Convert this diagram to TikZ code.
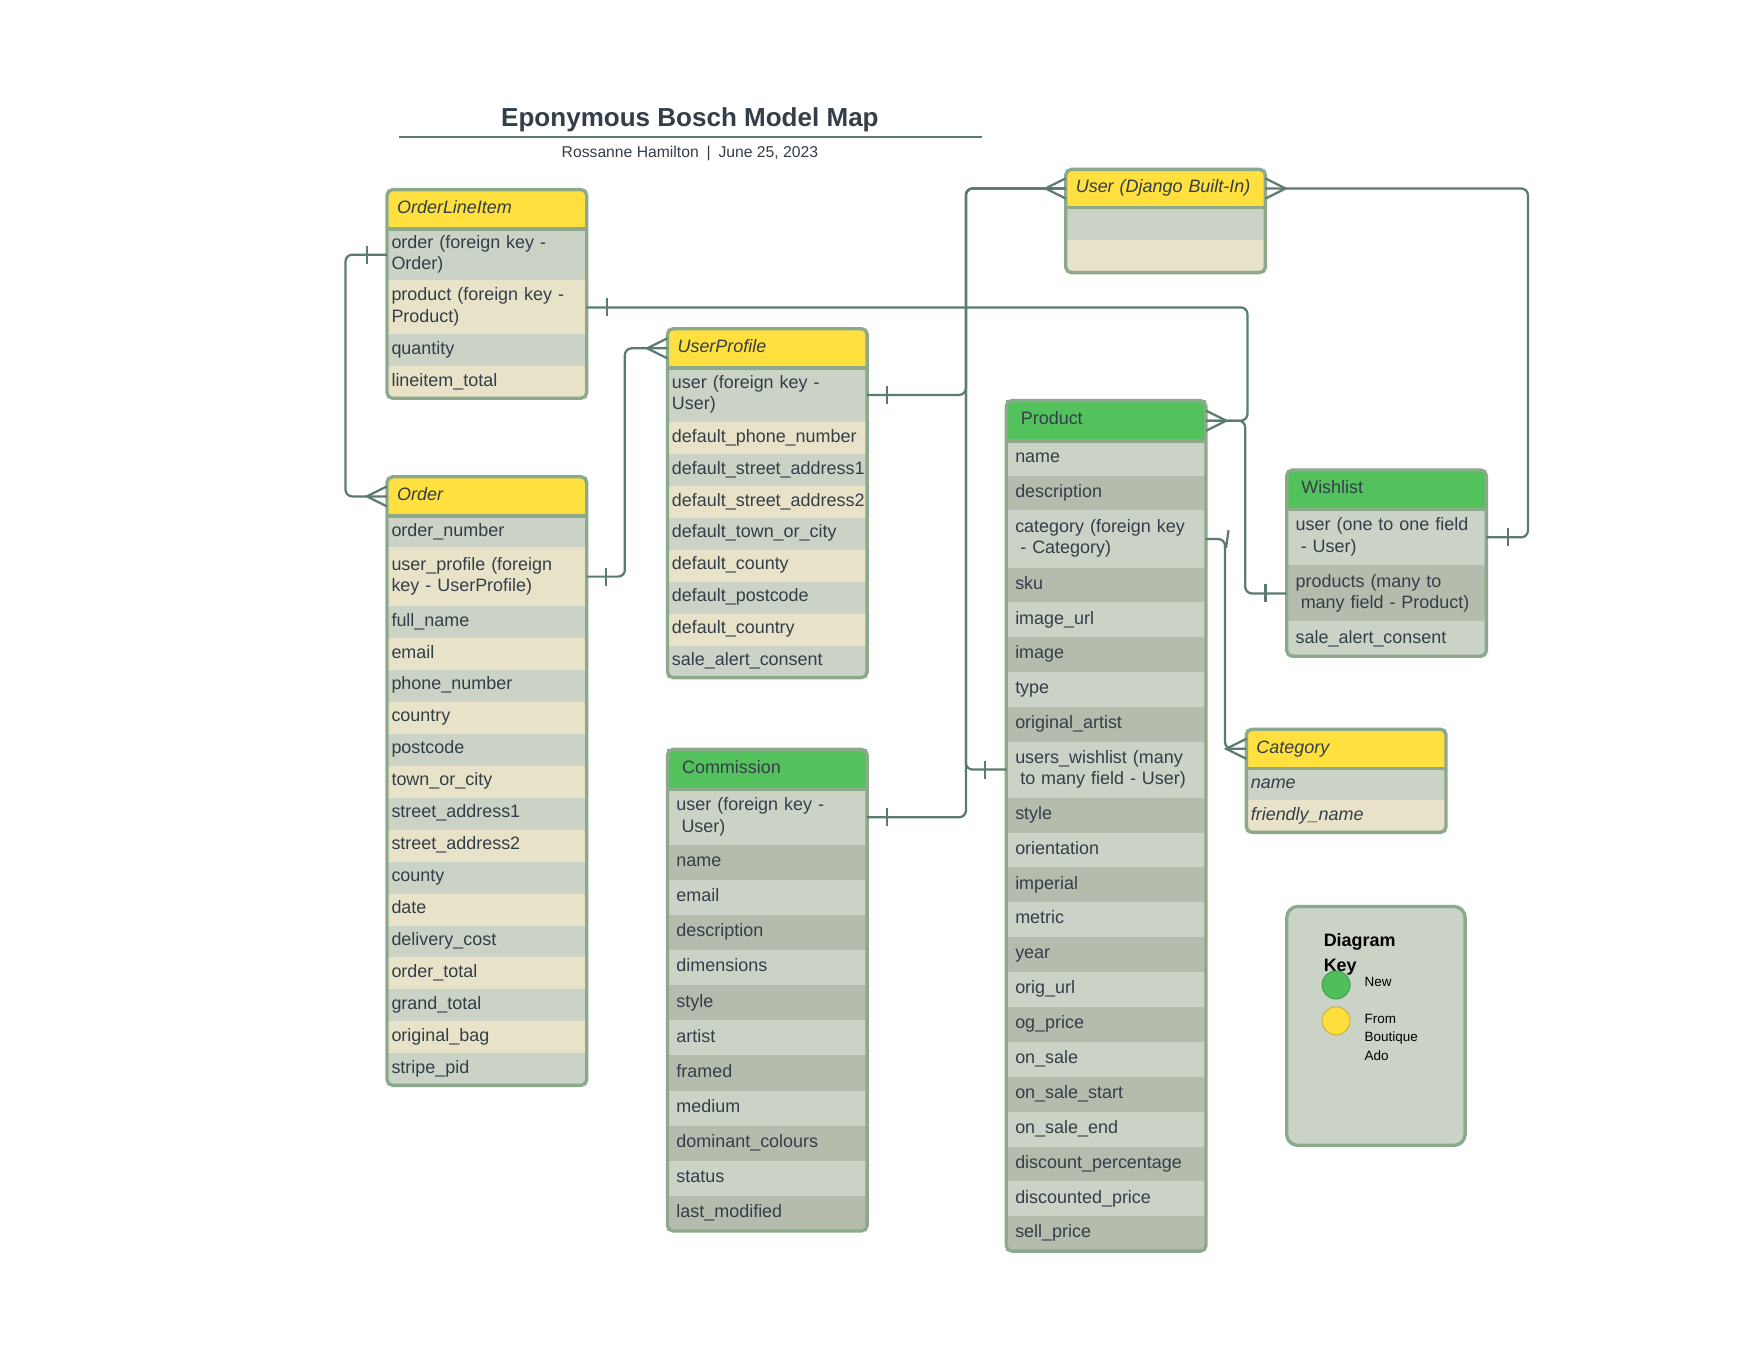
\documentclass[tikz,border=0pt]{standalone}
\usepackage{fontspec}
\setmainfont{Liberation Sans}
\usetikzlibrary{positioning,fit}
\hyphenpenalty=10000
\definecolor{headyellow}{HTML}{FFE03F}
\definecolor{headgreen}{HTML}{53C25D}
\definecolor{rowgrey}{HTML}{CAD3C5}
\definecolor{rowsand}{HTML}{E8E2C8}
\definecolor{rowdark}{HTML}{B5BCAE}
\definecolor{edgegreen}{HTML}{8CA98C}
\definecolor{wire}{HTML}{5B7B6F}
\definecolor{ink}{HTML}{333E48}
\definecolor{keygreen}{HTML}{4FBF5A}
\definecolor{keygreenedge}{HTML}{3E9B48}
\definecolor{keyyellow}{HTML}{FFDD3C}
\definecolor{keyyellowedge}{HTML}{C8AE3A}

\begin{document}
\begin{tikzpicture}[x=1pt,y=-1pt,
    every node/.style={outer sep=0pt,text=ink},
    fieldY/.style={inner xsep=4pt,inner ysep=0pt,text width=170pt,align=left,
      font=\fontsize{16}{19}\selectfont,
      execute at begin node=\strut,execute at end node=\strut},
    fieldI/.style={fieldY,font=\fontsize{16}{19}\selectfont\itshape},
    fieldG/.style={fieldY,inner xsep=8pt,text width=162pt},
    headY/.style={fieldY,fill=headyellow,inner xsep=9pt,text width=160pt,
      minimum height=35pt,font=\fontsize{16}{19}\selectfont\itshape},
    headG/.style={fieldY,fill=headgreen,inner xsep=13pt,text width=152pt,minimum height=36pt},
    tablebox/.style={draw=edgegreen,line width=3pt,rounded corners=5pt,inner sep=0pt},
    headrule/.style={draw=edgegreen,line width=3pt},
    wireline/.style={draw=wire,line width=2pt},
    route/.style={wireline,rounded corners=6pt},
    bar/.pic={\draw[wireline] (0,-8) -- (0,8);},
    crow/.pic={\draw[wireline] (0,-9) -- (-18,0) -- (0,9);}]

  \fill[white] (0,0) rectangle (1568,1211);
  \useasboundingbox (0,0) rectangle (1568,1211);

  % title
  \node[font=\fontsize{23.2}{28}\selectfont\bfseries] (title) at (615,107) {Eponymous Bosch Model Map};
  \coordinate (ruleL) at (356,122);
  \coordinate (ruleR) at (875,122);
  \draw[wire,line width=2pt] (ruleL) -- (ruleR);
  \node[font=\fontsize{14}{17}\selectfont] (byline) at (615,137) {Rossanne Hamilton\enspace|\enspace June 25, 2023};

  % OrderLineItem
  \node[headY,anchor=north west] (oli0) at (345,169) {OrderLineItem};
  \foreach \f/\h/\c [count=\i] in {order (foreign key -\\Order)/46/rowgrey,
      product (foreign key -\\Product)/48/rowsand, quantity/28/rowgrey, lineitem\_total/29/rowsand}{
    \pgfmathtruncatemacro\j{\i-1}
    \node[fieldY,fill=\c,minimum height={\h*1pt},below=0pt of oli\j] (oli\i) {\f};
  }
  \node[tablebox,fit=(oli0)(oli4)] {};
  \draw[headrule] (oli0.south west) -- (oli0.south east);

  % Order
  \node[headY,anchor=north west] (ord0) at (345,425) {Order};
  \foreach \f/\h/\c [count=\i] in {order\_number/28/rowgrey,
      user\_profile (foreign\\key - UserProfile)/52/rowsand,
      full\_name/28.5/rowgrey, email/28.5/rowsand, phone\_number/28.5/rowgrey,
      country/28.5/rowsand, postcode/28.5/rowgrey, town\_or\_city/28.5/rowsand,
      street\_address1/28.5/rowgrey, street\_address2/28.5/rowsand, county/28.5/rowgrey,
      date/28.5/rowsand, delivery\_cost/28.5/rowgrey, order\_total/28.5/rowsand,
      grand\_total/28.5/rowgrey, original\_bag/28.5/rowsand, stripe\_pid/28.5/rowgrey}{
    \pgfmathtruncatemacro\j{\i-1}
    \node[fieldY,fill=\c,minimum height={\h*1pt},below=0pt of ord\j] (ord\i) {\f};
  }
  \node[tablebox,fit=(ord0)(ord17)] {};
  \draw[headrule] (ord0.south west) -- (ord0.south east);

  % UserProfile
  \node[headY,anchor=north west] (up0) at (595,293) {UserProfile};
  \foreach \f/\h/\c [count=\i] in {user (foreign key -\\User)/48/rowgrey,
      default\_phone\_number/28.5/rowsand, default\_street\_address1/28.5/rowgrey,
      default\_street\_address2/28.5/rowsand, default\_town\_or\_city/28.5/rowgrey,
      default\_county/28.5/rowsand, default\_postcode/28.5/rowgrey,
      default\_country/28.5/rowsand, sale\_alert\_consent/28.5/rowgrey}{
    \pgfmathtruncatemacro\j{\i-1}
    \node[fieldY,fill=\c,minimum height={\h*1pt},below=0pt of up\j] (up\i) {\f};
  }
  \node[tablebox,fit=(up0)(up9)] {};
  \draw[headrule] (up0.south west) -- (up0.south east);

  % User (Django Built-In)
  \node[headY,minimum height=34pt,anchor=north west] (usr0) at (950,151) {User (Django Built-In)};
  \node[fieldY,fill=rowgrey,minimum height=29pt,below=0pt of usr0] (usr1) {};
  \node[fieldY,fill=rowsand,minimum height=29pt,below=0pt of usr1] (usr2) {};
  \node[tablebox,fit=(usr0)(usr2)] {};
  \draw[headrule] (usr0.south west) -- (usr0.south east);

  % Product
  \node[headG,anchor=north west] (prod0) at (897,357) {Product};
  \foreach \f/\h/\c [count=\i] in {name/31/rowgrey, description/31/rowdark,
      category (foreign key\\\hspace*{4.5pt}- Category)/51/rowgrey, sku/31/rowdark,
      image\_url/31/rowgrey, image/31/rowdark, type/31/rowgrey, original\_artist/31/rowdark,
      users\_wishlist (many\\\hspace*{4.5pt}to many field - User)/50/rowgrey,
      style/31.1/rowdark, orientation/31.1/rowgrey, imperial/31.1/rowdark, metric/31.1/rowgrey,
      year/31.1/rowdark, orig\_url/31.1/rowgrey, og\_price/31.1/rowdark, on\_sale/31.1/rowgrey,
      on\_sale\_start/31.1/rowdark, on\_sale\_end/31.1/rowgrey,
      discount\_percentage/31.1/rowdark, discounted\_price/31.1/rowgrey, sell\_price/31.1/rowdark}{
    \pgfmathtruncatemacro\j{\i-1}
    \node[fieldG,fill=\c,minimum height={\h*1pt},below=0pt of prod\j] (prod\i) {\f};
  }
  \node[tablebox,fit=(prod0)(prod22)] {};
  \draw[headrule] (prod0.south west) -- (prod0.south east);

  % Commission
  \node[headG,anchor=north west] (com0) at (595,668) {Commission};
  \foreach \f/\h/\c [count=\i] in {user (foreign key -\\\hspace*{4.5pt}User)/49/rowgrey,
      name/31.3/rowdark, email/31.3/rowgrey, description/31.3/rowdark, dimensions/31.3/rowgrey,
      style/31.3/rowdark, artist/31.3/rowgrey, framed/31.3/rowdark, medium/31.3/rowgrey,
      dominant\_colours/31.3/rowdark, status/31.3/rowgrey, last\_modified/31.3/rowdark}{
    \pgfmathtruncatemacro\j{\i-1}
    \node[fieldG,fill=\c,minimum height={\h*1pt},below=0pt of com\j] (com\i) {\f};
  }
  \node[tablebox,fit=(com0)(com12)] {};
  \draw[headrule] (com0.south west) -- (com0.south east);

  % Wishlist
  \node[headG,minimum height=35pt,anchor=north west] (wl0) at (1147,419) {Wishlist};
  \foreach \f/\h/\c [count=\i] in {user (one to one field\\\hspace*{4.5pt}- User)/50/rowgrey,
      products (many to\\\hspace*{4.5pt}many field - Product)/50/rowdark,
      sale\_alert\_consent/31/rowgrey}{
    \pgfmathtruncatemacro\j{\i-1}
    \node[fieldG,fill=\c,minimum height={\h*1pt},below=0pt of wl\j] (wl\i) {\f};
  }
  \node[tablebox,fit=(wl0)(wl3)] {};
  \draw[headrule] (wl0.south west) -- (wl0.south east);

  % Category
  \node[headY,anchor=north west] (cat0) at (1111,650) {Category};
  \node[fieldI,fill=rowgrey,minimum height=28pt,below=0pt of cat0] (cat1) {name};
  \node[fieldI,fill=rowsand,minimum height=29pt,below=0pt of cat1] (cat2) {friendly\_name};
  \node[tablebox,fit=(cat0)(cat2)] {};
  \draw[headrule] (cat0.south west) -- (cat0.south east);

  % relations
  \draw[route] (oli1.west) -- ++(-37,0) |- (ord0.west);
  \draw[route] (oli2.east) -| ([xshift=37pt]prod0.east) -- (prod0.east);
  \draw[route] (prod0.east) -- ++(35,0) |- (wl2.west);
  \draw[route] (ord2.east) -- ++(34,0) |- (up0.west);
  \draw[route] (up1.east) -| ([xshift=-89pt]usr0.west) -- (usr0.west);
  \draw[route] (prod9.west) -| ([xshift=-89pt]usr0.west) -- (usr0.west);
  \draw[route] (com1.east) -| ([xshift=-89pt]usr0.west) -- (usr0.west);
  \draw[route] (usr0.east) -| ([xshift=37pt]wl1.east) -- (wl1.east);
  \draw[route] (prod3.east) -| ([xshift=-19pt]cat0.west) -- (cat0.west);

  \pic at ([xshift=-18pt]oli1.west) {bar};
  \pic at (ord0.west) {crow};
  \pic at ([xshift=18pt]oli2.east) {bar};
  \pic[rotate=180] at (prod0.east) {crow};
  \pic at ([xshift=-19pt]wl2.west) {bar};
  \pic at ([xshift=17pt]ord2.east) {bar};
  \pic at (up0.west) {crow};
  \pic at ([xshift=18pt]up1.east) {bar};
  \pic at ([xshift=-19pt]prod9.west) {bar};
  \pic at ([xshift=18pt]com1.east) {bar};
  \pic at (usr0.west) {crow};
  \pic[rotate=180] at (usr0.east) {crow};
  \pic at ([xshift=19pt]wl1.east) {bar};
  \pic[rotate=-8] at ([xshift=19pt]prod3.east) {bar};
  \pic at (cat0.west) {crow};

  % diagram key
  \node[fill=rowgrey,draw=edgegreen,line width=3pt,rounded corners=10pt,
    minimum width=159pt,minimum height=213pt,anchor=north west] (key) at (1147,808) {};
  \node[anchor=north west,align=left,inner sep=0pt,text=black,
    font=\fontsize{16}{22}\selectfont\bfseries] (keyTitle) at (1180,832) {Diagram\\Key};
  \node[circle,minimum size=25pt,inner sep=0pt,fill=keygreen,draw=keygreenedge,line width=0.8pt] (keyNew) at (1191,878) {};
  \node[circle,minimum size=25pt,inner sep=0pt,fill=keyyellow,draw=keyyellowedge,line width=0.8pt] (keyOld) at (1191,910) {};
  \node[anchor=north west,inner sep=0pt,text=black,font=\fontsize{12}{16.5}\selectfont]
    (keyNewLabel) at ([xshift=13pt,yshift=7pt]keyNew.east) {New};
  \node[anchor=north west,align=left,inner sep=0pt,text=black,font=\fontsize{12}{16.5}\selectfont]
    (keyOldLabel) at ([xshift=13pt,yshift=6pt]keyOld.east) {From\\Boutique\\Ado};
\end{tikzpicture}
\end{document}
